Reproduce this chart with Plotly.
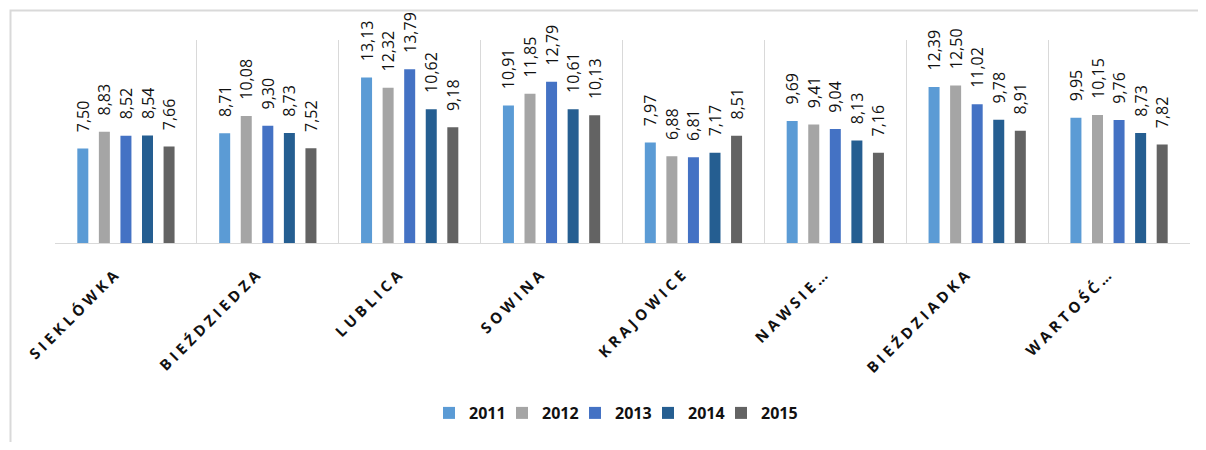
import plotly.graph_objects as go

categories = ["SIEKLÓWKA", "BIEŹDZIEDZA", "LUBLICA", "SOWINA", "KRAJOWICE", "NAWSIE…", "BIEŹDZIADKA", "WARTOŚĆ…"]
years = ["2011", "2012", "2013", "2014", "2015"]
v2011 = [7.50, 8.71, 13.13, 10.91, 7.97, 9.69, 12.39, 9.95]
v2012 = [8.83, 10.08, 12.32, 11.85, 6.88, 9.41, 12.50, 10.15]
v2013 = [8.52, 9.30, 13.79, 12.79, 6.81, 9.04, 11.02, 9.76]
v2014 = [8.54, 8.73, 10.62, 10.61, 7.17, 8.13, 9.78, 8.73]
v2015 = [7.66, 7.52, 9.18, 10.13, 8.51, 7.16, 8.91, 7.82]
series = [v2011, v2012, v2013, v2014, v2015]
colors = ["#5B9BD5", "#A5A5A5", "#4472C4", "#255E91", "#636363"]

# page body has an 8px margin; figure coordinates = screen - 8
OFF = 8
W, H = 1198, 434
L, R, T, B = 55 - OFF, 16, 40 - OFF, H - (243 - OFF)
pw = W - L - R
ph = H - T - B

def spaced(s):
    return " ".join(list(s))

# transparent prefix creates the gap between the bar top and its rotated label
PAD = "<span style='color:rgba(0,0,0,0)'>0,</span>"

fig = go.Figure()
for name, vals, col in zip(years, series, colors):
    fig.add_trace(go.Bar(
        name=name, x=categories, y=vals, marker_color=col, marker_line_width=0,
        text=vals, texttemplate=PAD + "%{y:.2f}", textposition="outside",
        textangle=-90, constraintext="none", cliponaxis=False,
        textfont=dict(family="Open Sans", size=16, color="#111111"),
    ))
# invisible spacer entry so the last legend label is not clipped
fig.add_trace(go.Scatter(x=[categories[0]], y=[None], mode="markers", name="",
                         marker=dict(color="rgba(0,0,0,0)", size=1, line=dict(width=0)),
                         hoverinfo="skip"))

def px_x(x):
    return (x - OFF - L) / pw

def px_y(y):
    return (H - B - (y - OFF)) / ph

fig.update_layout(
    width=W, height=H, margin=dict(l=L, r=R, t=T, b=B, autoexpand=False),
    paper_bgcolor="white", plot_bgcolor="white",
    separators=", ",
    barmode="group", bargap=0.24, bargroupgap=0.49,
    showlegend=True,
    legend=dict(orientation="h", x=px_x(648), xanchor="center", y=px_y(413), yanchor="middle",
                font=dict(family="Open Sans", size=16, color="#111111", weight="bold"),
                entrywidth=28, entrywidthmode="pixels", itemwidth=30),
    xaxis=dict(type="category", tickson="boundaries", showgrid=True, gridcolor="#D9D9D9", gridwidth=1,
               showline=True, linecolor="#D9D9D9", linewidth=1, ticks="", automargin=False,
               tickangle=-45, tickvals=categories, ticktext=[spaced(c) for c in categories],
               ticklabelstandoff=17, ticklabelshift=-12,
               tickfont=dict(family="Open Sans", size=15, color="#111111", weight="bold")),
    yaxis=dict(range=[0, ph / 12.6], visible=False),
)

fig.add_shape(type="rect", xref="paper", yref="paper",
              x0=px_x(10.5), x1=px_x(1230), y0=px_y(470), y1=px_y(10.5),
              line=dict(color="#D9D9D9", width=2), fillcolor="rgba(0,0,0,0)", layer="below")

fig.write_html("out.html")
